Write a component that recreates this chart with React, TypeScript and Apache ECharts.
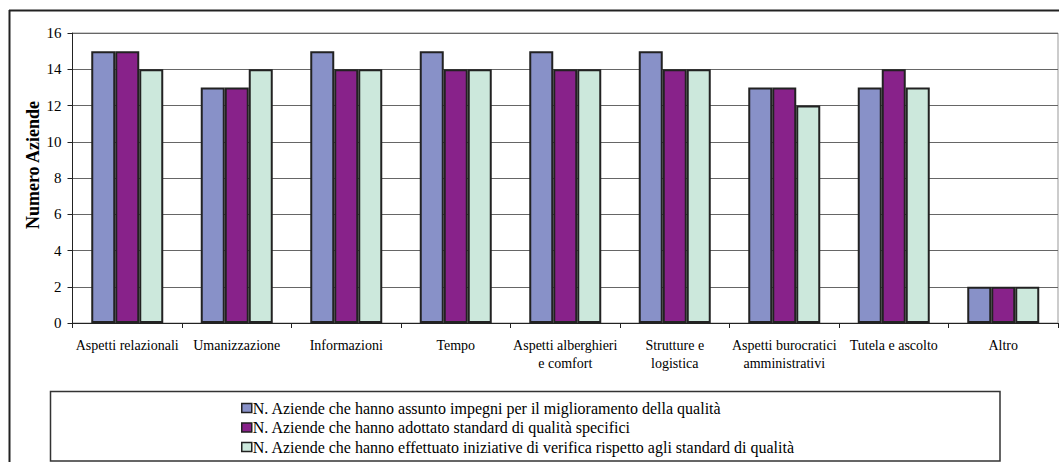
import React, { useEffect, useRef } from "react";
import * as echarts from "echarts";

const categories = [
  "Aspetti relazionali",
  "Umanizzazione",
  "Informazioni",
  "Tempo",
  "Aspetti alberghieri\ne comfort",
  "Strutture e\nlogistica",
  "Aspetti burocratici\namministrativi",
  "Tutela e ascolto",
  "Altro",
];

const seriesNames = [
  "N. Aziende che hanno assunto impegni per il miglioramento della qualità",
  "N. Aziende che hanno adottato standard di qualità specifici",
  "N. Aziende che hanno effettuato iniziative di verifica rispetto agli standard di qualità",
];

const impegni = [15, 13, 15, 15, 15, 15, 13, 13, 2];
const standard = [15, 13, 14, 14, 14, 14, 13, 14, 2];
const verifica = [14, 14, 14, 14, 14, 14, 12, 13, 2];

const yTicks = { min: 0, max: 16, interval: 2 };
const axisTitle = "Numero Aziende";

const colors = ["#8891C8", "#88228A", "#CCE8DC"];
const FONT = "Liberation Serif";

export default function App() {
  const ref = useRef<HTMLDivElement>(null);
  useEffect(() => {
    if (!ref.current) return;
    const chart = echarts.init(ref.current, null, { renderer: "svg" });
    const values = [impegni, standard, verifica];
    chart.setOption({
      animation: false,
      backgroundColor: "#ffffff",
      textStyle: { fontFamily: FONT, color: "#000" },
      grid: {
        left: 72.5,
        top: 33,
        right: 1,
        bottom: 139,
        show: true,
        borderColor: "#999",
        borderWidth: 1,
        backgroundColor: "transparent",
      },
      legend: {
        orient: "vertical",
        left: 236,
        top: 395,
        itemWidth: 10,
        itemHeight: 9,
        itemGap: 3.5,
        icon: "rect",
        itemStyle: { borderColor: "#222", borderWidth: 1.5 },
        textStyle: { fontFamily: FONT, fontSize: 16, color: "#000", padding: [0, 0, 0, -4] },
        data: seriesNames,
      },
      xAxis: {
        type: "category",
        data: categories,
        axisLine: { lineStyle: { color: "#222", width: 1 } },
        axisTick: { show: true, alignWithLabel: false, length: 5, lineStyle: { color: "#222" } },
        axisLabel: {
          interval: 0,
          margin: 13,
          fontFamily: FONT,
          fontSize: 14,
          lineHeight: 18,
          color: "#000",
          align: "center",
        },
      },
      yAxis: {
        type: "value",
        min: yTicks.min,
        max: yTicks.max,
        interval: yTicks.interval,
        axisLine: { show: true, lineStyle: { color: "#222", width: 1 } },
        axisTick: { show: true, length: 5, lineStyle: { color: "#222" } },
        axisLabel: { margin: 11, fontFamily: FONT, fontSize: 15, color: "#000" },
        splitLine: { show: true, lineStyle: { color: "#666", width: 1 } },
      },
      series: seriesNames.map((name, i) => ({
        name,
        type: "bar",
        data: values[i],
        barWidth: 24,
        barGap: "0%",
        itemStyle: { color: colors[i], borderColor: "#222", borderWidth: 2 },
      })),
      graphic: [
        {
          type: "line",
          shape: { x1: 9, y1: 10.5, x2: 1059, y2: 10.5 },
          style: { stroke: "#222", lineWidth: 2 },
        },
        {
          type: "line",
          shape: { x1: 9.5, y1: 10, x2: 9.5, y2: 462 },
          style: { stroke: "#222", lineWidth: 2 },
        },
        {
          type: "rect",
          shape: { x: 50.5, y: 391.5, width: 949.5, height: 69.5 },
          style: { fill: "none", stroke: "#333", lineWidth: 1.5 },
        },
        {
          type: "text",
          x: 33,
          y: 165,
          rotation: Math.PI / 2,
          style: {
            text: axisTitle,
            fontFamily: FONT,
            fontSize: 18,
            fontWeight: "bold",
            fill: "#000",
            align: "center",
            verticalAlign: "middle",
          },
        },
      ],
    });
    return () => chart.dispose();
  }, []);
  return (
    <div
      ref={ref}
      style={{ position: "absolute", left: 0, top: 0, width: 1059, height: 462 }}
    />
  );
}
